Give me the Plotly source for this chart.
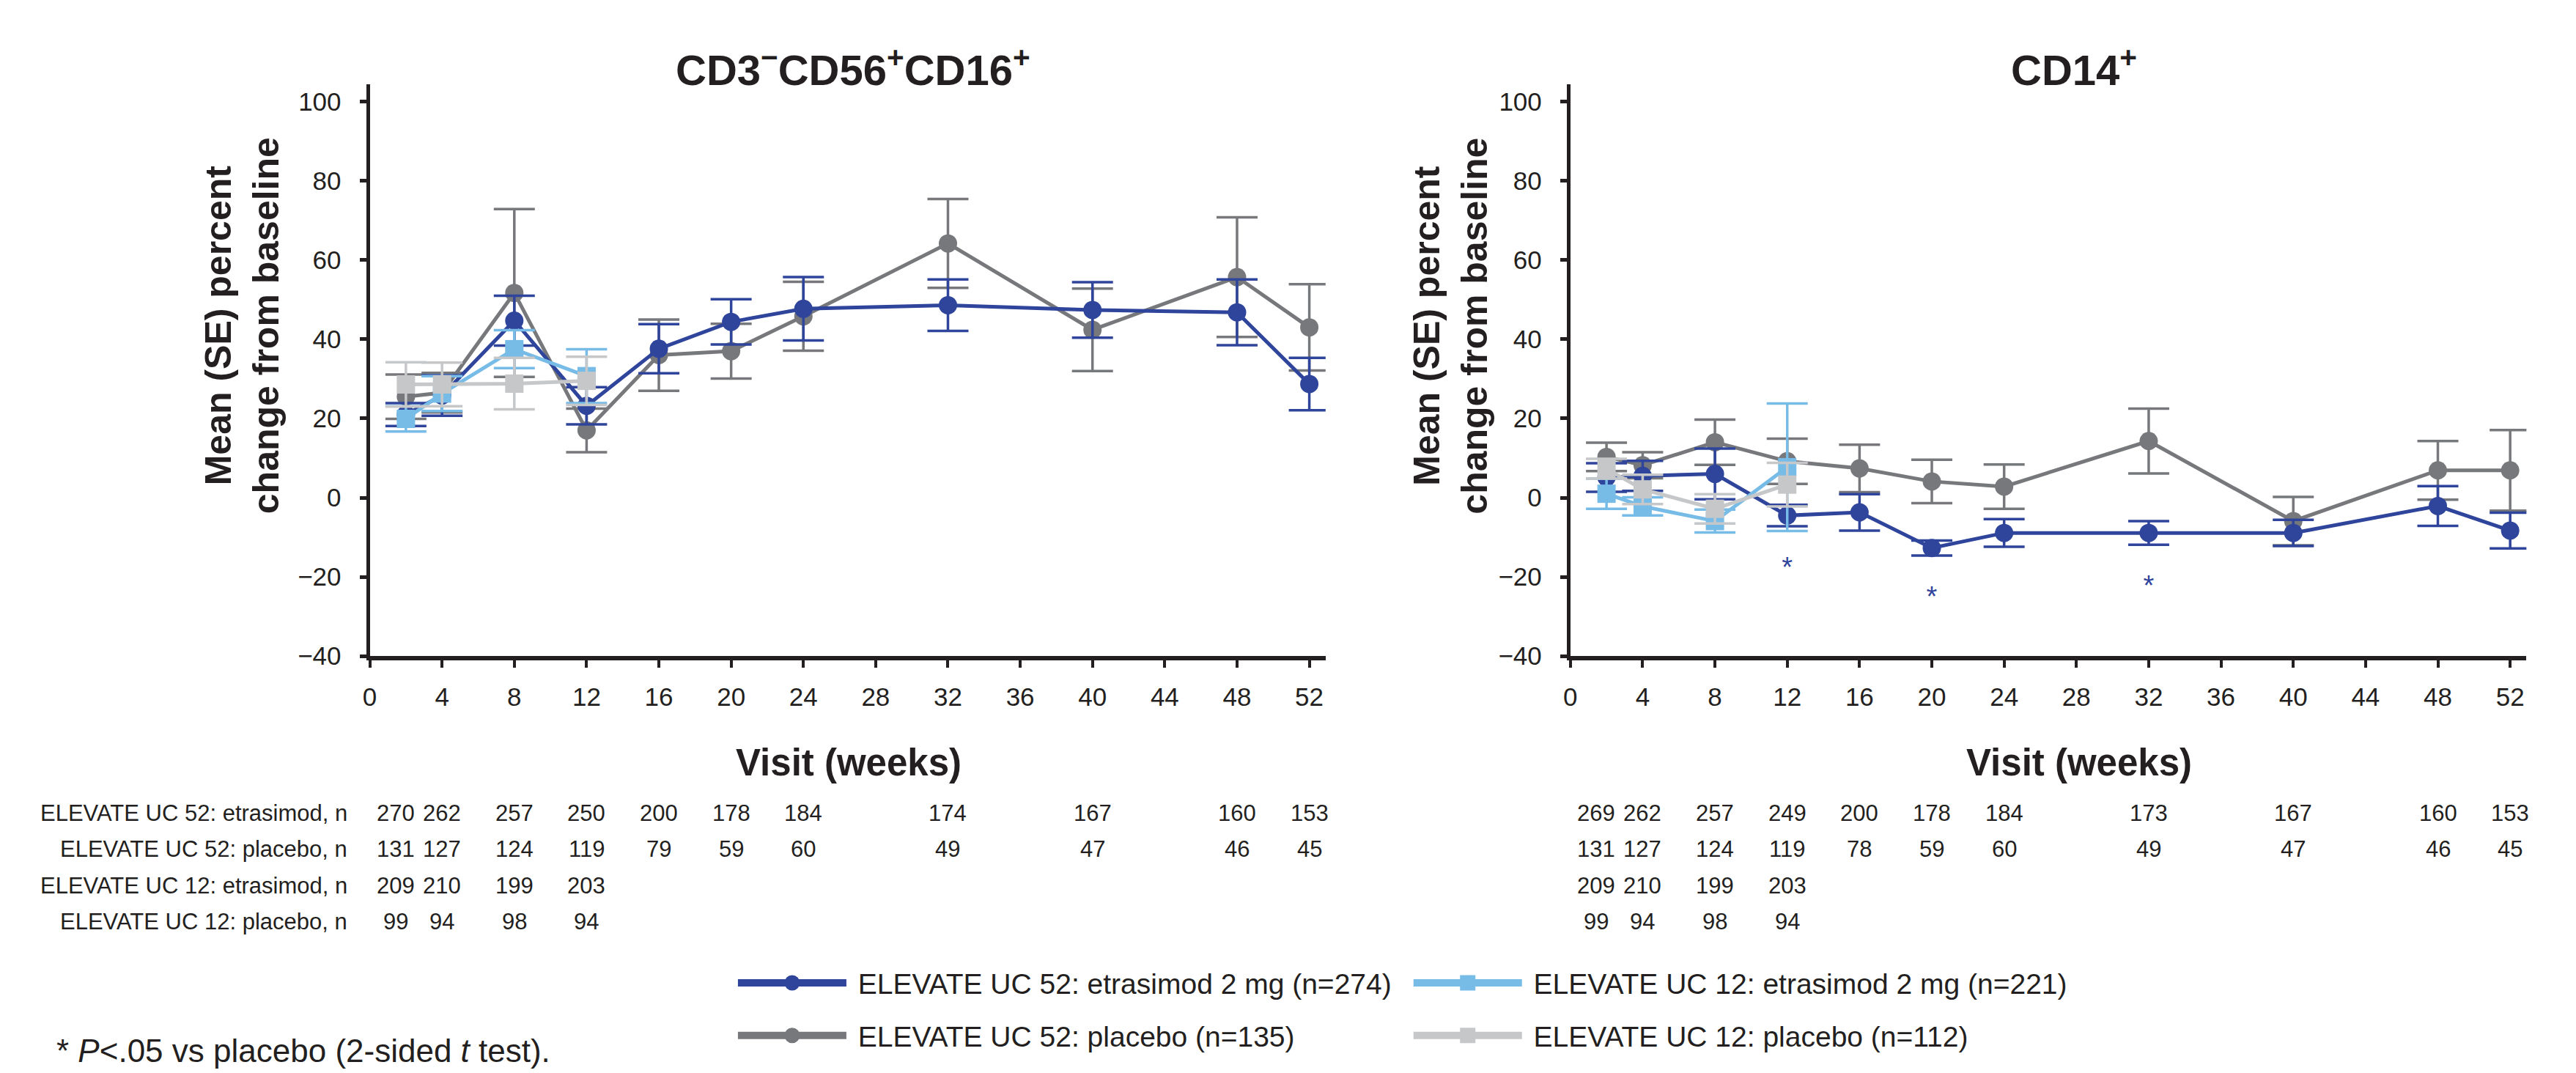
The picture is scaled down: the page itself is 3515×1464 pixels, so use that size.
import plotly.graph_objects as go

# ---------------- data ----------------
weeks_52 = [2, 4, 8, 12, 16, 20, 24, 32, 40, 48, 52]
weeks_12 = [2, 4, 8, 12]
x_ticks = list(range(0, 53, 4))
y_ticks = [-40, -20, 0, 20, 40, 60, 80, 100]

# Panel 1: CD3-CD56+CD16+
nk_etr52_mean = [21.0, 25.8, 44.7, 23.2, 37.6, 44.4, 47.7, 48.6, 47.4, 46.8, 28.7]
nk_etr52_se = [2.9, 5.1, 6.3, 4.7, 6.2, 5.7, 8.0, 6.5, 7.0, 8.3, 6.6]
nk_plc52_mean = [25.5, 26.5, 51.7, 17.0, 36.0, 37.0, 45.8, 64.2, 42.4, 55.7, 43.0]
nk_plc52_se = [5.6, 5.0, 21.2, 5.5, 9.0, 6.9, 8.7, 11.2, 10.4, 15.1, 10.9]
nk_etr12_mean = [19.9, 26.3, 37.5, 30.7]
nk_etr12_se = [3.2, 4.4, 4.8, 6.8]
nk_plc12_mean = [28.6, 28.6, 28.8, 29.5]
nk_plc12_se = [5.6, 5.5, 6.5, 6.1]

# Panel 2: CD14+
mo_etr52_mean = [5.1, 5.5, 6.0, -4.5, -3.7, -12.7, -8.9, -8.9, -8.9, -2.1, -8.3]
mo_etr52_se = [3.6, 3.8, 6.4, 2.7, 4.6, 1.9, 3.5, 3.0, 3.3, 5.0, 4.5]
mo_plc52_mean = [10.3, 8.2, 14.0, 9.2, 7.4, 4.1, 2.8, 14.3, -5.9, 6.9, 6.9]
mo_plc52_se = [3.6, 3.3, 5.7, 5.7, 6.0, 5.5, 5.6, 8.2, 6.1, 7.4, 10.2]
mo_etr12_mean = [1.0, -2.2, -5.9, 7.7]
mo_etr12_se = [3.8, 2.3, 2.9, 16.1]
mo_plc12_mean = [7.3, 2.1, -2.8, 3.3]
mo_plc12_se = [2.5, 3.7, 3.7, 5.5]
mo_signif_weeks = [12, 20, 32]

# Numbers at risk
row_labels = ["ELEVATE UC 52: etrasimod, n", "ELEVATE UC 52: placebo, n",
              "ELEVATE UC 12: etrasimod, n", "ELEVATE UC 12: placebo, n"]
nk_n_etr52 = [270, 262, 257, 250, 200, 178, 184, 174, 167, 160, 153]
nk_n_plc52 = [131, 127, 124, 119, 79, 59, 60, 49, 47, 46, 45]
nk_n_etr12 = [209, 210, 199, 203]
nk_n_plc12 = [99, 94, 98, 94]
mo_n_etr52 = [269, 262, 257, 249, 200, 178, 184, 173, 167, 160, 153]
mo_n_plc52 = [131, 127, 124, 119, 78, 59, 60, 49, 47, 46, 45]
mo_n_etr12 = [209, 210, 199, 203]
mo_n_plc12 = [99, 94, 98, 94]

series_names = ["ELEVATE UC 52: etrasimod 2 mg (n=274)",
                "ELEVATE UC 52: placebo (n=135)",
                "ELEVATE UC 12: etrasimod 2 mg (n=221)",
                "ELEVATE UC 12: placebo (n=112)"]
panel_titles = ["<b>CD3<sup>\u2212</sup>CD56<sup>+</sup>CD16<sup>+</sup></b>", "<b>CD14<sup>+</sup></b>"]

# ---------------- style ----------------
FONT = "Liberation Sans, Arial, Helvetica, sans-serif"
INK = "#231F20"
DARK_BLUE = "#2F449B"
GRAY = "#77787B"
LIGHT_BLUE = "#77BBE7"
LIGHT_GRAY = "#C6C7C9"

fig = go.Figure()


def add_series(x, mean, se, color, symbol, xa, ya):
    fig.add_trace(go.Scatter(
        x=x, y=mean, mode="lines+markers", xaxis=xa, yaxis=ya, showlegend=False,
        line=dict(color=color, width=5),
        marker=dict(symbol=symbol, size=25, color=color),
        error_y=dict(type="data", array=se, visible=True, color=color, thickness=3.5, width=28),
        cliponaxis=False,
    ))


panels = [
    ("x", "y", nk_etr52_mean, nk_etr52_se, nk_plc52_mean, nk_plc52_se,
     nk_etr12_mean, nk_etr12_se, nk_plc12_mean, nk_plc12_se),
    ("x2", "y2", mo_etr52_mean, mo_etr52_se, mo_plc52_mean, mo_plc52_se,
     mo_etr12_mean, mo_etr12_se, mo_plc12_mean, mo_plc12_se),
]
for xa, ya, e52, e52s, p52, p52s, e12, e12s, p12, p12s in panels:
    add_series(weeks_52, p52, p52s, GRAY, "circle", xa, ya)
    add_series(weeks_52, e52, e52s, DARK_BLUE, "circle", xa, ya)
    add_series(weeks_12, e12, e12s, LIGHT_BLUE, "square", xa, ya)
    add_series(weeks_12, p12, p12s, LIGHT_GRAY, "square", xa, ya)

# significance asterisks under the lower error bar
sig_x, sig_y = [], []
for w, m, s in zip(weeks_52, mo_etr52_mean, mo_etr52_se):
    if w in mo_signif_weeks:
        sig_x.append(w)
        sig_y.append(m - s - 11.0)
fig.add_trace(go.Scatter(x=sig_x, y=sig_y, mode="text", text=["*"] * len(sig_x),
                         textfont=dict(size=38, color=DARK_BLUE, family=FONT),
                         xaxis="x2", yaxis="y2", showlegend=False, hoverinfo="skip"))

# legend-only entries
legend_specs = [
    (series_names[0], DARK_BLUE, "circle", "legend", "g1"),
    (series_names[1], GRAY, "circle", "legend", "g2"),
    (series_names[2], LIGHT_BLUE, "square", "legend2", "g3"),
    (series_names[3], LIGHT_GRAY, "square", "legend2", "g4"),
]
for name, color, symbol, lg, grp in legend_specs:
    fig.add_trace(go.Scatter(
        x=[None], y=[None], mode="lines+markers", name="\u00a0" + name, legend=lg, legendgroup=grp,
        line=dict(color=color, width=10),
        marker=dict(symbol=symbol, size=30, color=color, line=dict(color=color, width=5)),
        showlegend=True, xaxis="x", yaxis="y"))

# ---------------- axes ----------------
x_domains = [[0.1411, 0.5132], [0.6085, 0.9807]]
y_domain = [0.3805, 0.9201]
axis_common = dict(showgrid=False, zeroline=False, showline=True, linecolor=INK,
                   ticks="outside", tickcolor=INK,
                   tickfont=dict(size=35, color=INK, family=FONT))
for i, xd in enumerate(x_domains):
    sfx = "" if i == 0 else str(i + 1)
    fig.update_layout(**{
        f"xaxis{sfx}": dict(domain=xd, range=[0, 52.9], tickvals=x_ticks, ticklen=10, linewidth=6,
                            tickwidth=4, ticklabelstandoff=10, anchor=f"y{sfx}", **axis_common),
        f"yaxis{sfx}": dict(domain=y_domain, range=[-40, 104.3], tickvals=y_ticks, ticklen=9, linewidth=5,
                            tickwidth=5, ticklabelstandoff=18, anchor=f"x{sfx}", **axis_common),
    })

annotations = []
# panel titles
for xc, t in zip([0.3292, 0.8046], panel_titles):
    annotations.append(dict(x=xc, y=0.9365, xref="paper", yref="paper", text=t, showarrow=False,
                            xanchor="center", yanchor="middle",
                            font=dict(size=58, color=INK, family=FONT)))
# y titles
for xc in [0.0913, 0.5619]:
    annotations.append(dict(x=xc, y=0.6926, xref="paper", yref="paper", textangle=-90,
                            text="<b>Mean (SE) percent<br>change from baseline</b>", showarrow=False,
                            xanchor="center", yanchor="middle",
                            font=dict(size=50, color=INK, family=FONT)))
# x titles
for xc in [0.3275, 0.8065]:
    annotations.append(dict(x=xc, y=0.2797, xref="paper", yref="paper", text="<b>Visit (weeks)</b>",
                            showarrow=False, xanchor="center", yanchor="middle",
                            font=dict(size=51, color=INK, family=FONT)))

# numbers table
row_y = [0.2322, 0.1981, 0.1639, 0.1297]
for lab, ry in zip(row_labels, row_y):
    annotations.append(dict(x=0.1329, y=ry, xref="paper", yref="paper", text=lab, showarrow=False,
                            xanchor="right", yanchor="middle",
                            font=dict(size=31, color=INK, family=FONT)))
tables = [
    ("x", [nk_n_etr52, nk_n_plc52, nk_n_etr12, nk_n_plc12]),
    ("x2", [mo_n_etr52, mo_n_plc52, mo_n_etr12, mo_n_plc12]),
]
for xref, rows in tables:
    for vals, ry in zip(rows, row_y):
        wk = weeks_52 if len(vals) == len(weeks_52) else weeks_12
        for w, n in zip(wk, vals):
            annotations.append(dict(x=w, y=ry, xref=xref, yref="paper", text=str(n), showarrow=False,
                                    xanchor="center", yanchor="middle", xshift=-14 if w == 2 else 0,
                                    font=dict(size=31, color=INK, family=FONT)))

# footnote
annotations.append(dict(x=0.0185, y=0.008, xref="paper", yref="paper",
                        text="* <i>P</i>&lt;.05 vs placebo (2-sided <i>t</i> test).",
                        showarrow=False, xanchor="left", yanchor="middle",
                        font=dict(size=44, color=INK, family=FONT)))

legend_common = dict(orientation="v", xanchor="left", yanchor="top", bgcolor="rgba(0,0,0,0)",
                     font=dict(size=39, color=INK, family=FONT), itemwidth=148,
                     tracegroupgap=18, itemsizing="trace")
fig.update_layout(
    width=3515, height=1464, autosize=False,
    margin=dict(l=0, r=0, t=0, b=0),
    paper_bgcolor="white", plot_bgcolor="white",
    font=dict(family=FONT, color=INK),
    annotations=annotations,
    legend=dict(x=0.283, y=0.094, **legend_common),
    legend2=dict(x=0.546, y=0.094, **legend_common),
)

fig.write_html("out.html")
